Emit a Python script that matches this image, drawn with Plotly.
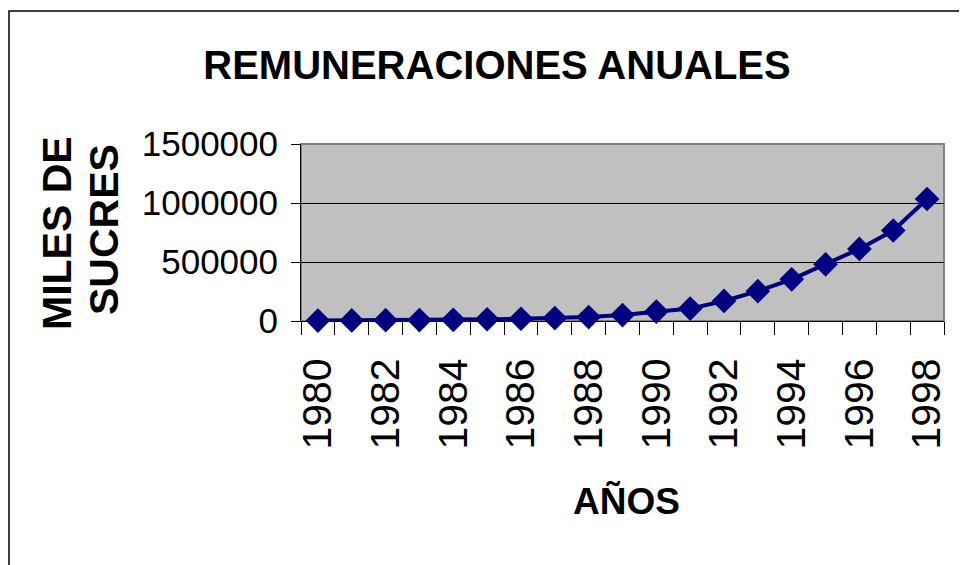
import plotly.graph_objects as go

# ---- data ----
years = [1980, 1981, 1982, 1983, 1984, 1985, 1986, 1987, 1988, 1989,
         1990, 1991, 1992, 1993, 1994, 1995, 1996, 1997, 1998]
remuneraciones = [4000, 5000, 7000, 8000, 10000, 15000, 19000, 25000, 33000, 50000,
                  80000, 105000, 170000, 253000, 353000, 480000, 611000, 767000, 1034000]
label_years = [1980, 1982, 1984, 1986, 1988, 1990, 1992, 1994, 1996, 1998]
y_ticks = [0, 500000, 1000000, 1500000]

title_text = "REMUNERACIONES ANUALES"
y_title_1 = "MILES DE"
y_title_2 = "SUCRES"
x_title = "AÑOS"

FONT = "Liberation Sans, Arial, sans-serif"

W, H = 967, 565
OFF = 8  # page body margin: figure origin sits at (8, 8) in the page

# plot area in page pixels (from the reference)
PX0, PX1, PY0, PY1 = 301, 944, 144, 321
L = PX0 - OFF
T = PY0 - OFF
R = W - (PX1 - OFF)
B = H - (PY1 - OFF)
PW = PX1 - PX0
PH = PY1 - PY0


def px(xpage):
    return (xpage - PX0) / PW


def py(ypage):
    return (PY1 - ypage) / PH


fig = go.Figure()
fig.add_trace(go.Scatter(
    x=years, y=remuneraciones, mode="lines+markers",
    line=dict(color="#000080", width=4),
    marker=dict(symbol="diamond", size=19, color="#000080"),
    cliponaxis=False, showlegend=False,
))

fig.update_layout(
    width=W, height=H,
    margin=dict(l=L, r=R, t=T, b=B, autoexpand=False),
    paper_bgcolor="white",
    plot_bgcolor="#C0C0C0",
    title=dict(text="<b>" + title_text + "</b>", xref="container", yref="container",
               x=(497 - OFF) / W, y=1 - (65 - OFF) / H, xanchor="center", yanchor="middle",
               font=dict(family=FONT, size=40, color="black")),
    xaxis=dict(
        range=[1979.5, 1998.5],
        tickmode="array", tickvals=label_years, ticktext=[str(v) for v in label_years],
        tickangle=-90, ticks="", ticklabelstandoff=20,
        tickfont=dict(family=FONT, size=41, color="black"),
        minor=dict(ticks="outside", tick0=1979.5, dtick=1, ticklen=13,
                   tickcolor="black", tickwidth=1, showgrid=False),
        showline=True, linecolor="black", linewidth=1,
        showgrid=False, zeroline=False, fixedrange=True,
    ),
    yaxis=dict(
        range=[0, 1500000],
        tickmode="array", tickvals=y_ticks, ticktext=[str(v) for v in y_ticks],
        ticks="outside", ticklen=9, tickcolor="black", tickwidth=1,
        ticklabelstandoff=6,
        tickfont=dict(family=FONT, size=35, color="black"),
        showline=True, linecolor="black", linewidth=1,
        showgrid=True, gridcolor="black", gridwidth=1,
        zeroline=False, fixedrange=True,
    ),
    shapes=[
        dict(type="rect", xref="paper", yref="paper", x0=0, x1=1, y0=0, y1=1,
             line=dict(color="#808080", width=2), layer="below"),
        dict(type="rect", xref="paper", yref="paper",
             x0=px(OFF + 1), x1=px(1000), y0=py(600), y1=py(11),
             line=dict(color="black", width=1.5)),
    ],
    annotations=[
        dict(text="<b>" + y_title_1 + "</b>", xref="paper", yref="paper",
             x=px(57), y=py(233), textangle=-90, showarrow=False,
             xanchor="center", yanchor="middle",
             font=dict(family=FONT, size=41, color="black")),
        dict(text="<b>" + y_title_2 + "</b>", xref="paper", yref="paper",
             x=px(104), y=py(230), textangle=-90, showarrow=False,
             xanchor="center", yanchor="middle",
             font=dict(family=FONT, size=41, color="black")),
        dict(text="<b>" + x_title + "</b>", xref="paper", yref="paper",
             x=px(626), y=py(501), showarrow=False,
             xanchor="center", yanchor="middle",
             font=dict(family=FONT, size=37, color="black")),
    ],
)

fig.write_html("out.html")
